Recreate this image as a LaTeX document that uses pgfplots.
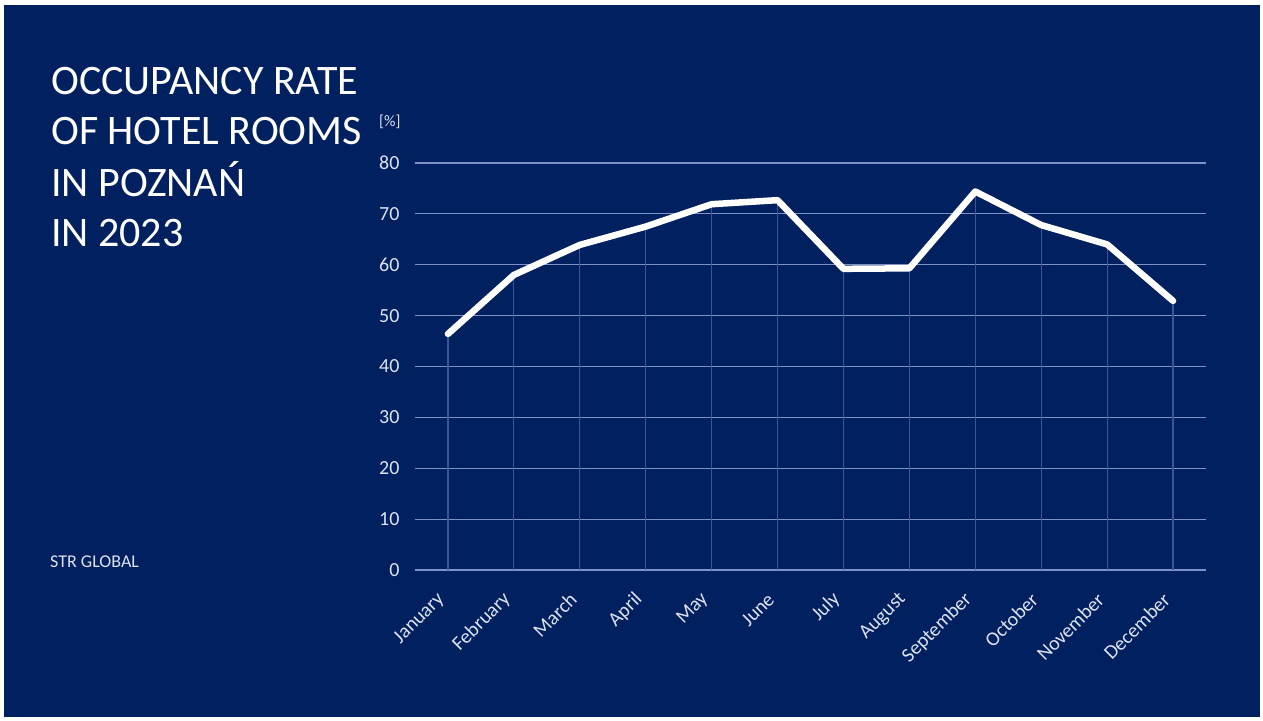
\documentclass[border=0pt]{standalone}
\usepackage{pgfplots}
\pgfplotsset{compat=1.18}
\usepackage{fontspec}
\setmainfont{Carlito}

\definecolor{navy}{HTML}{002060}
\definecolor{gridc}{HTML}{7D92C6}
\definecolor{dropc}{HTML}{3E5595}
\definecolor{labelc}{HTML}{DCE2F0}

\begin{document}
\begin{tikzpicture}
\begin{scope}[x=1pt,y=1pt]
% page frame and slide background
\fill[white] (0,0) rectangle (1263,720);
\fill[navy] (4,3) rectangle (1260,715);

% title block
\begin{scope}[every node/.style={anchor=base west, inner sep=0pt, text=white,
    font=\fontsize{42}{50}\selectfont}]
\node at (51,625) {OCCUPANCY RATE};
\node at (51,575) {OF HOTEL ROOMS};
\node at (51,523) {IN POZNAŃ};
\node at (51,473) {IN 2023};
\end{scope}
\node[anchor=base west, inner sep=0pt, text=labelc, font=\fontsize{16}{18}\selectfont] at (379,593) {[\%]};
\node[anchor=base west, inner sep=0pt, text=labelc, font=\fontsize{18}{21}\selectfont] at (50,152) {STR GLOBAL};
\end{scope}

\begin{axis}[
    at={(415pt,150pt)}, anchor=south west,
    scale only axis,
    width=791pt, height=407pt,
    xmin=-0.5, xmax=11.5,
    ymin=0, ymax=80,
    ytick={0,10,...,80},
    xtick=data,
    xticklabels={January,February,March,April,May,June,July,August,September,October,November,December},
    axis line style={draw=none},
    major tick length=0pt,
    ymajorgrids,
    grid style={gridc, line width=1.2pt},
    clip=false,
    /pgf/number format/assume math mode=true,
    tick label style={text=labelc, font=\fontsize{20}{24}\selectfont},
    yticklabel style={xshift=-12pt},
    xticklabel style={xshift=-4pt, yshift=-24pt, rotate=45, anchor=east},
]
% drop lines
\addplot[ycomb, dropc, line width=1.2pt, mark=none] coordinates {
    (0,46.4) (1,58.0) (2,63.9) (3,67.5) (4,71.9) (5,72.7)
    (6,59.2) (7,59.3) (8,74.4) (9,67.8) (10,64.0) (11,52.9)
};
% occupancy
\addplot[white, line width=6.5pt, line join=round, line cap=round, mark=none] coordinates {
    (0,46.4) (1,58.0) (2,63.9) (3,67.5) (4,71.9) (5,72.7)
    (6,59.2) (7,59.3) (8,74.4) (9,67.8) (10,64.0) (11,52.9)
};
\end{axis}
\end{tikzpicture}
\end{document}
